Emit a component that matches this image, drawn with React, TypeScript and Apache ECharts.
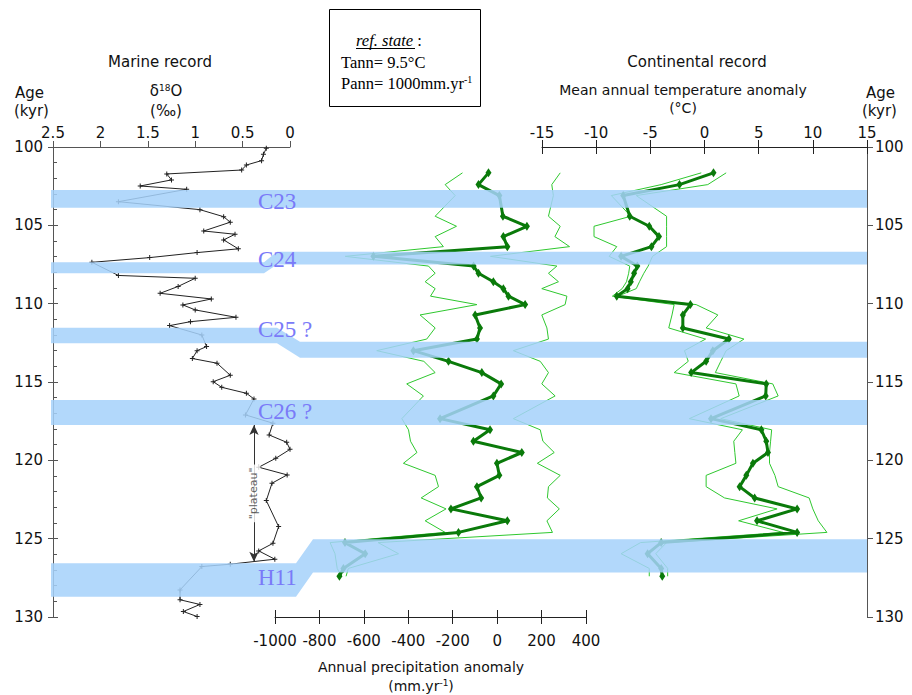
import React, { useEffect, useRef } from "react";
import * as echarts from "echarts";

// ---------- DATA ----------
// Marine record: benthic δ18O (‰) versus age (kyr)
const marineAge = [100.08, 100.47, 100.87, 101.15, 101.47, 101.72, 102.1, 102.49, 102.7, 103.49, 104.0, 104.45, 104.8, 105.36, 105.57, 105.93, 106.5, 106.74, 107.06, 107.36, 108.2, 108.38, 108.9, 109.34, 109.7, 110.08, 110.4, 110.87, 111.15, 111.4, 112.0, 112.74, 113.0, 113.5, 113.8, 114.57, 114.98, 115.34, 115.72, 116.08, 117.1, 117.63, 118.38, 118.85, 119.3, 119.87, 120.44, 120.93, 121.46, 122.57, 124.23, 125.3, 125.78, 126.31, 126.63, 126.78, 128.27, 128.9, 129.2, 129.65, 129.97];
const marineD18O = [0.25, 0.28, 0.3, 0.46, 0.51, 1.3, 1.25, 1.58, 1.09, 1.81, 0.95, 0.7, 0.63, 0.91, 0.58, 0.7, 0.545, 0.98, 1.48, 2.09, 1.81, 1.0, 1.18, 1.37, 0.83, 1.13, 1.0, 0.57, 1.05, 1.27, 0.93, 0.88, 0.98, 1.03, 0.77, 0.63, 0.81, 0.72, 0.46, 0.38, 0.47, 0.18, 0.22, 0.035, 0.0, 0.15, 0.33, 0.03, 0.19, 0.25, 0.12, 0.18, 0.33, 0.16, 0.63, 0.93, 1.16, 1.16, 0.95, 1.125, 0.98];

// Continental (pollen) record: shared sample ages
const contAge = [101.65, 102.4, 103.1, 104.42, 105.06, 105.72, 106.36, 106.98, 107.6, 108.06, 108.6, 109.04, 109.52, 110.06, 110.72, 111.55, 112.26, 113.0, 113.68, 114.4, 115.12, 115.89, 117.34, 118.05, 118.78, 119.5, 120.19, 120.96, 121.68, 122.4, 123.1, 123.86, 124.6, 125.25, 125.96, 126.9, 127.4];
// Annual precipitation anomaly (mm/yr)
const precipMean = [-39, -84, 10, 26, 134, 28, 46, -557, -106, -84, -17, 28, 51, 126, -99, -77, -91, -377, -219, -69, 18, -17, -257, -32, -107, 111, -1, 10, -91, -72, -208, 46, -174, -685, -594, -692, -710];
const precipLow = [-156, -234, -189, -279, -183, -279, -242, -684, -309, -279, -324, -279, -300, -91, -347, -279, -317, -542, -330, -279, -407, -332, -429, -399, -390, -361, -422, -279, -264, -342, -230, -324, -234, -752, -730, -720, -700];
const precipHigh = [284, 246, 253, 231, 284, 260, 326, -30, 269, 231, 276, 201, 314, 306, 201, 224, 231, 73, 194, 231, 201, 261, 73, 194, 206, 257, 181, 284, 231, 226, 280, 224, 249, -536, -444, -670, -680];
// Mean annual temperature anomaly (°C)
const tempMean = [0.83, -2.31, -7.5, -6.9, -5.1, -4.2, -4.9, -7.7, -6.2, -6.5, -6.8, -7.1, -8.1, -1.3, -2.0, -2.0, 2.25, 0.77, 0.15, -1.23, 5.7, 5.65, 0.6, 5.25, 5.7, 5.86, 4.47, 3.86, 3.24, 4.63, 8.55, 4.85, 8.55, -4.0, -5.25, -4.0, -3.9];
const tempLow = [-0.3, -4.0, -8.6, -6.8, -10.2, -10.2, -8.1, -8.8, -6.9, -7.0, -7.2, -7.6, -8.5, -2.8, -3.0, -3.3, 0.1, -1.85, -1.5, -2.8, 2.9, 3.2, -1.4, 3.5, 2.7, 2.8, 2.9, 0.15, 0.15, 1.85, 6.7, 3.15, 7.25, -5.9, -7.7, -5.1, -5.1];
const tempHigh = [2.0, 0.3, -6.3, -3.5, -3.5, -3.5, -3.5, -4.8, -5.2, -5.6, -6.0, -6.3, -8.0, -0.77, 1.23, 0.15, 3.64, 2.0, 1.5, 1.0, 6.3, 6.8, 1.5, 6.2, 6.1, 6.0, 6.0, 6.5, 6.8, 9.66, 10.0, 10.5, 11.3, -3.5, -4.5, -3.4, -3.4];

// Cold events (bands), ages in kyr: left (marine) part and right (continental) part
const bandNames = ["C23", "C24", "C25 ?", "C26 ?", "H11"];
const bandTopLeft = [102.75, 107.36, 111.53, 116.15, 126.57];
const bandBottomLeft = [103.88, 108.06, 112.53, 117.74, 128.7];
const bandTopRight = [102.75, 106.68, 112.43, 116.15, 125.03];
const bandBottomRight = [103.88, 107.5, 113.45, 117.74, 127.16];
const bandLabelAge = [103.5, 107.15, 111.68, 116.9, 127.47];

// "plateau" arrow
const plateauD18O = 0.38;
const plateauStart = 117.74;
const plateauEnd = 126.48;
const plateauLabel = '"plateau"';

// ---------- LAYOUT / STYLE ----------
const SANS = '"DejaVu Sans", "Noto Sans", sans-serif';
const SERIF = '"Liberation Serif", "Times New Roman", serif';
const TOP = 147;
const H = 470;
const BAND_SLANT: Record<string, [number, number]> = { C24: [264, 277], "C25 ?": [277, 300], H11: [296, 313] };
const BAND_LABEL_X = 258;
const AXIS_GREY = "#555";
const DARK_GREEN = "#0a7a0a";
const LIGHT_GREEN = "#2fc82f";

const ageAxis = (gridIndex: number, extra: any = {}) => ({
  type: "value",
  gridIndex,
  min: 100,
  max: 130,
  interval: 5,
  inverse: true,
  splitLine: { show: false },
  ...extra,
});
const hiddenX = (gridIndex: number) => ({ type: "value", gridIndex, min: 0, max: 1, show: false });
const hiddenY = (gridIndex: number) => ageAxis(gridIndex, { show: false });

const plain = (v: number) => String(v);
const tickLabel = { fontFamily: SANS, fontSize: 15, color: "#111", formatter: plain };

function buildOption(): any {
  const plus = "path://M1.6,0H2.4V1.6H4V2.4H2.4V4H1.6V2.4H0V1.6H1.6Z";
  return {
    animation: false,
    backgroundColor: "#fff",
    grid: [
      { left: 53, top: TOP, width: 237, height: H }, // 0 marine
      { left: 275, top: TOP, width: 311, height: H }, // 1 precipitation
      { left: 542, top: TOP, width: 325, height: H }, // 2 temperature
      { left: 53, top: TOP, width: 814, height: H }, // 3 bands
      { left: 53, top: TOP, width: 237, height: H }, // 4 inner ticks age-left
      { left: 275, top: TOP, width: 311, height: H }, // 5 inner ticks precip
      { left: 542, top: TOP, width: 325, height: H }, // 6 inner ticks temp
    ],
    xAxis: [
      {
        type: "value", gridIndex: 0, position: "top", min: 0, max: 2.5, interval: 0.5, inverse: true,
        axisLine: { show: true, lineStyle: { color: AXIS_GREY } },
        axisTick: { show: true, length: 6, lineStyle: { color: AXIS_GREY } },
        axisLabel: { ...tickLabel, margin: 7 },
        splitLine: { show: false },
      },
      {
        type: "value", gridIndex: 1, position: "bottom", min: -1000, max: 400, interval: 200,
        axisLine: { show: true, onZero: false, lineStyle: { color: "#222" } },
        axisTick: { show: true, length: 7, lineStyle: { color: "#222" } },
        axisLabel: { ...tickLabel, margin: 16 },
        splitLine: { show: false },
      },
      {
        type: "value", gridIndex: 2, position: "top", min: -15, max: 15, interval: 5,
        axisLine: { show: true, onZero: false, lineStyle: { color: "#222" } },
        axisTick: { show: true, length: 7, lineStyle: { color: "#222" } },
        axisLabel: { ...tickLabel, margin: 7 },
        splitLine: { show: false },
      },
      hiddenX(3),
      hiddenX(4),
      {
        type: "value", gridIndex: 5, position: "bottom", min: -1000, max: 400, interval: 200,
        axisLine: { show: false, onZero: false }, axisLabel: { show: false }, splitLine: { show: false },
        axisTick: { show: true, inside: true, length: 7, lineStyle: { color: "#222" } },
      },
      {
        type: "value", gridIndex: 6, position: "top", min: -15, max: 15, interval: 5,
        axisLine: { show: false, onZero: false }, axisLabel: { show: false }, splitLine: { show: false },
        axisTick: { show: true, inside: true, length: 7, lineStyle: { color: "#222" } },
      },
    ],
    yAxis: [
      ageAxis(0, {
        position: "left",
        axisLine: { show: true, onZero: false, lineStyle: { color: AXIS_GREY } },
        axisTick: { show: true, length: 5, lineStyle: { color: AXIS_GREY } },
        axisLabel: { ...tickLabel, margin: 10 },
      }),
      hiddenY(1),
      ageAxis(2, {
        position: "right",
        axisLine: { show: true, onZero: false, lineStyle: { color: AXIS_GREY } },
        axisTick: { show: true, length: 6, lineStyle: { color: AXIS_GREY } },
        axisLabel: { ...tickLabel, margin: 8 },
      }),
      hiddenY(3),
      ageAxis(4, {
        position: "left",
        axisLine: { show: false },
        axisLabel: { show: false },
        axisTick: { show: true, inside: true, length: 5, lineStyle: { color: AXIS_GREY } },
        minorTick: { show: true, splitNumber: 5, length: 4, lineStyle: { color: AXIS_GREY } },
      }),
      hiddenY(5),
      hiddenY(6),
    ],
    series: [
      {
        name: "δ18O", type: "line", xAxisIndex: 0, yAxisIndex: 0, z: 3,
        data: marineAge.map((a, i) => [marineD18O[i], a]),
        lineStyle: { color: "#222", width: 1 },
        symbol: plus, symbolSize: 5, showSymbol: true,
        itemStyle: { color: "#222" },
        markLine: {
          silent: true,
          symbol: ["arrow", "arrow"],
          symbolSize: [7, 10],
          lineStyle: { color: "#333", width: 1, type: "solid" },
          label: { show: false },
          data: [[{ coord: [plateauD18O, plateauStart] }, { coord: [plateauD18O, plateauEnd] }]],
        },
      },
      {
        name: "plateau label", type: "scatter", xAxisIndex: 0, yAxisIndex: 0, z: 5, silent: true,
        symbolSize: 0,
        data: [[plateauD18O, (plateauStart + plateauEnd) / 2]],
        label: {
          show: true, position: "inside", rotate: 90, formatter: plateauLabel,
          fontFamily: SANS, fontSize: 11, color: "#333", backgroundColor: "#fff", padding: [1, 3],
        },
      },
      {
        name: "precip low", type: "line", xAxisIndex: 1, yAxisIndex: 1, z: 2, showSymbol: false, symbol: "none",
        data: contAge.map((a, i) => [precipLow[i], a]), lineStyle: { color: LIGHT_GREEN, width: 1 },
      },
      {
        name: "precip high", type: "line", xAxisIndex: 1, yAxisIndex: 1, z: 2, showSymbol: false, symbol: "none",
        data: contAge.map((a, i) => [precipHigh[i], a]), lineStyle: { color: LIGHT_GREEN, width: 1 },
      },
      {
        name: "precip mean", type: "line", xAxisIndex: 1, yAxisIndex: 1, z: 3,
        data: contAge.map((a, i) => [precipMean[i], a]),
        lineStyle: { color: DARK_GREEN, width: 3 },
        symbol: "diamond", symbolSize: [6, 9], itemStyle: { color: DARK_GREEN },
      },
      {
        name: "temp low", type: "line", xAxisIndex: 2, yAxisIndex: 2, z: 2, showSymbol: false, symbol: "none",
        data: contAge.map((a, i) => [tempLow[i], a]), lineStyle: { color: LIGHT_GREEN, width: 1 },
      },
      {
        name: "temp high", type: "line", xAxisIndex: 2, yAxisIndex: 2, z: 2, showSymbol: false, symbol: "none",
        data: contAge.map((a, i) => [tempHigh[i], a]), lineStyle: { color: LIGHT_GREEN, width: 1 },
      },
      {
        name: "temp mean", type: "line", xAxisIndex: 2, yAxisIndex: 2, z: 3,
        data: contAge.map((a, i) => [tempMean[i], a]),
        lineStyle: { color: DARK_GREEN, width: 3 },
        symbol: "diamond", symbolSize: [6, 9], itemStyle: { color: DARK_GREEN },
      },
      {
        name: "bands", type: "custom", xAxisIndex: 3, yAxisIndex: 3, z: 10, silent: true, clip: false,
        data: bandNames.map((_, i) => [0.5, bandLabelAge[i], i]),
        renderItem: (params: any, api: any) => {
          const i = api.value(2);
          const cs = params.coordSys;
          const y = (age: number) => api.coord([0, age])[1];
          const x0 = cs.x - 2;
          const x1 = cs.x + cs.width;
          const name = bandNames[i];
          const slant = BAND_SLANT[name];
          const tl = y(bandTopLeft[i]), bl = y(bandBottomLeft[i]);
          const tr = y(bandTopRight[i]), br = y(bandBottomRight[i]);
          let points: number[][];
          if (slant) {
            const [xl, xr] = slant;
            points = [[x0, tl], [xl, tl], [xr, tr], [x1, tr], [x1, br], [xr, br], [xl, bl], [x0, bl]];
          } else {
            points = [[x0, tl], [x1, tr], [x1, br], [x0, bl]];
          }
          return {
            type: "group",
            children: [
              { type: "polygon", shape: { points }, style: { fill: "#a5d2fa", opacity: 0.86 } },
              {
                type: "text", x: BAND_LABEL_X, y: y(bandLabelAge[i]),
                style: {
                  text: name, fill: "#7a7af8", font: `23px ${SERIF}`,
                  textAlign: "left", textVerticalAlign: "middle", align: "left", verticalAlign: "middle",
                },
              },
            ],
          };
        },
      },
    ],
    graphic: [
      { type: "text", x: 160, y: 62, style: { text: "Marine record", font: `15px ${SANS}`, fill: "#111", textAlign: "center", textVerticalAlign: "middle" } },
      { type: "text", x: 15, y: 93, style: { text: "Age", font: `15px ${SANS}`, fill: "#111", textAlign: "left", textVerticalAlign: "middle" } },
      { type: "text", x: 14, y: 111, style: { text: "(kyr)", font: `15px ${SANS}`, fill: "#111", textAlign: "left", textVerticalAlign: "middle" } },
      {
        type: "text", x: 166, y: 91,
        style: {
          text: "δ{s|18}O", font: `15px ${SANS}`, fill: "#111", textAlign: "center", textVerticalAlign: "middle",
          rich: { s: { fontSize: 9, fontFamily: SANS, fill: "#111", verticalAlign: "top", padding: [0, 0, 6, 0] } },
        },
      },
      { type: "text", x: 166, y: 111, style: { text: "(‰)", font: `15px ${SANS}`, fill: "#111", textAlign: "center", textVerticalAlign: "middle" } },
      { type: "text", x: 697, y: 62, style: { text: "Continental record", font: `15px ${SANS}`, fill: "#111", textAlign: "center", textVerticalAlign: "middle" } },
      { type: "text", x: 683, y: 90, style: { text: "Mean annual temperature anomaly", font: `14px ${SANS}`, fill: "#111", textAlign: "center", textVerticalAlign: "middle" } },
      { type: "text", x: 683, y: 108, style: { text: "(°C)", font: `14px ${SANS}`, fill: "#111", textAlign: "center", textVerticalAlign: "middle" } },
      { type: "text", x: 866, y: 93, style: { text: "Age", font: `15px ${SANS}`, fill: "#111", textAlign: "left", textVerticalAlign: "middle" } },
      { type: "text", x: 862, y: 111, style: { text: "(kyr)", font: `15px ${SANS}`, fill: "#111", textAlign: "left", textVerticalAlign: "middle" } },
      { type: "text", x: 421, y: 667, style: { text: "Annual precipitation anomaly", font: `14px ${SANS}`, fill: "#111", textAlign: "center", textVerticalAlign: "middle" } },
      {
        type: "text", x: 421, y: 686,
        style: {
          text: "(mm.yr{s|-1})", font: `14px ${SANS}`, fill: "#111", textAlign: "center", textVerticalAlign: "middle",
          rich: { s: { fontSize: 9, fontFamily: SANS, fill: "#111", verticalAlign: "top", padding: [0, 0, 6, 0] } },
        },
      },
      { type: "rect", shape: { x: 329.5, y: 9.5, width: 151, height: 97 }, style: { fill: "#fff", stroke: "#000", lineWidth: 1 } },
      {
        type: "text", x: 356, y: 40,
        style: {
          text: "{i|ref. state} :", font: `16.5px ${SERIF}`, fill: "#000", textAlign: "left", textVerticalAlign: "middle",
          rich: { i: { fontStyle: "italic", fontSize: 16.5, fontFamily: SERIF, fill: "#000" } },
        },
      },
      { type: "line", shape: { x1: 356, y1: 48.5, x2: 415, y2: 48.5 }, style: { stroke: "#000", lineWidth: 1 } },
      { type: "text", x: 341, y: 62, style: { text: "Tann= 9.5°C", font: `16.5px ${SERIF}`, fill: "#000", textAlign: "left", textVerticalAlign: "middle" } },
      {
        type: "text", x: 341, y: 83,
        style: {
          text: "Pann= 1000mm.yr{s|-1}", font: `16.5px ${SERIF}`, fill: "#000", textAlign: "left", textVerticalAlign: "middle",
          rich: { s: { fontSize: 10, fontFamily: SERIF, fill: "#000", verticalAlign: "top", padding: [0, 0, 7, 0] } },
        },
      },
    ],
  };
}

export default function App() {
  const ref = useRef<HTMLDivElement>(null);
  useEffect(() => {
    if (!ref.current) return;
    const chart = echarts.init(ref.current, undefined, { renderer: "svg" });
    chart.setOption(buildOption());
    return () => chart.dispose();
  }, []);
  return <div ref={ref} style={{ width: 912, height: 695, position: "absolute", left: 0, top: 0, background: "#fff" }} />;
}
